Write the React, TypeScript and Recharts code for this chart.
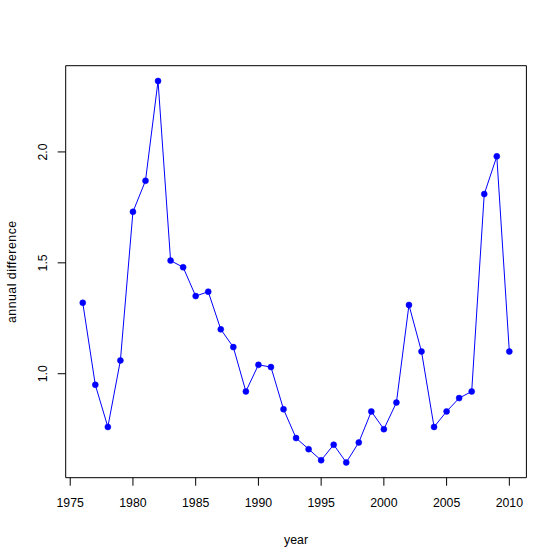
import React from "react";
import {
  LineChart,
  Line,
  XAxis,
  YAxis,
  ReferenceArea,
} from "recharts";

const years = [
  1976, 1977, 1978, 1979, 1980, 1981, 1982, 1983, 1984, 1985, 1986, 1987,
  1988, 1989, 1990, 1991, 1992, 1993, 1994, 1995, 1996, 1997, 1998, 1999,
  2000, 2001, 2002, 2003, 2004, 2005, 2006, 2007, 2008, 2009, 2010,
];
const annualDifference = [
  1.32, 0.95, 0.76, 1.06, 1.73, 1.87, 2.32, 1.51, 1.48, 1.35, 1.37, 1.2,
  1.12, 0.92, 1.04, 1.03, 0.84, 0.71, 0.66, 0.61, 0.68, 0.6, 0.69, 0.83,
  0.75, 0.87, 1.31, 1.1, 0.76, 0.83, 0.89, 0.92, 1.81, 1.98, 1.1,
];
const xTicks = [1975, 1980, 1985, 1990, 1995, 2000, 2005, 2010];
const yTicks = [1.0, 1.5, 2.0];

const data = years.map((year, i) => ({ year, value: annualDifference[i] }));

// R-style 4% padding of the data range
const xMinData = Math.min(...years);
const xMaxData = Math.max(...years);
const xPad = (xMaxData - xMinData) * 0.04;
const xDomain: [number, number] = [xMinData - xPad, xMaxData + xPad];
const yMinData = Math.min(...annualDifference);
const yMaxData = Math.max(...annualDifference);
const yPad = (yMaxData - yMinData) * 0.04;
const yDomain: [number, number] = [yMinData - yPad, yMaxData + yPad];

const FONT = '"Liberation Sans", Arial, Helvetica, sans-serif';

const YTick = (props: any) => {
  const { x, y, payload } = props;
  return (
    <text
      x={x}
      y={y}
      transform={`rotate(-90 ${x} ${y})`}
      textAnchor="middle"
      fontSize={12.3}
      fill="#000"
      fontFamily={FONT}
    >
      {Number(payload.value).toFixed(1)}
    </text>
  );
};

export default function App() {
  return (
    <div style={{ position: "absolute", left: 0, top: 0, background: "#fff" }}>
      <LineChart
        width={560}
        height={560}
        data={data}
        margin={{ top: 65.7, right: 33.6, left: 0, bottom: 0 }}
        style={{ fontFamily: FONT }}
      >
        <XAxis
          dataKey="year"
          type="number"
          domain={xDomain}
          ticks={xTicks}
          allowDataOverflow
          interval={0}
          height={82.3}
          axisLine={false}
          tickSize={8}
          tickMargin={13}
          tickLine={{ stroke: "#000" }}
          tick={{ fill: "#000", fontSize: 12.3, fontFamily: FONT }}
          label={{
            value: "year",
            position: "insideBottom",
            offset: 16,
            fill: "#000",
            fontSize: 12.3,
            fontFamily: FONT,
          }}
        />
        <YAxis
          type="number"
          domain={yDomain}
          ticks={yTicks}
          allowDataOverflow
          interval={0}
          width={65.7}
          axisLine={false}
          tickSize={8}
          tickMargin={10.7}
          tickLine={{ stroke: "#000" }}
          tick={<YTick />}
          label={{
            value: "annual difference",
            angle: -90,
            position: "insideLeft",
            offset: 11.7,
            fill: "#000",
            fontSize: 12.3,
            fontFamily: FONT,
            style: { textAnchor: "middle", letterSpacing: "0.5px" },
          }}
        />
        <ReferenceArea
          x1={xDomain[0]}
          x2={xDomain[1]}
          y1={yDomain[0]}
          y2={yDomain[1]}
          fill="none"
          fillOpacity={0}
          stroke="#000"
          strokeWidth={1}
          ifOverflow="visible"
        />
        <Line
          type="linear"
          dataKey="value"
          stroke="#0000FF"
          strokeWidth={1}
          dot={{ r: 3, fill: "#0000FF", stroke: "#0000FF", strokeWidth: 0.5 }}
          activeDot={false}
          isAnimationActive={false}
        />
      </LineChart>
    </div>
  );
}
